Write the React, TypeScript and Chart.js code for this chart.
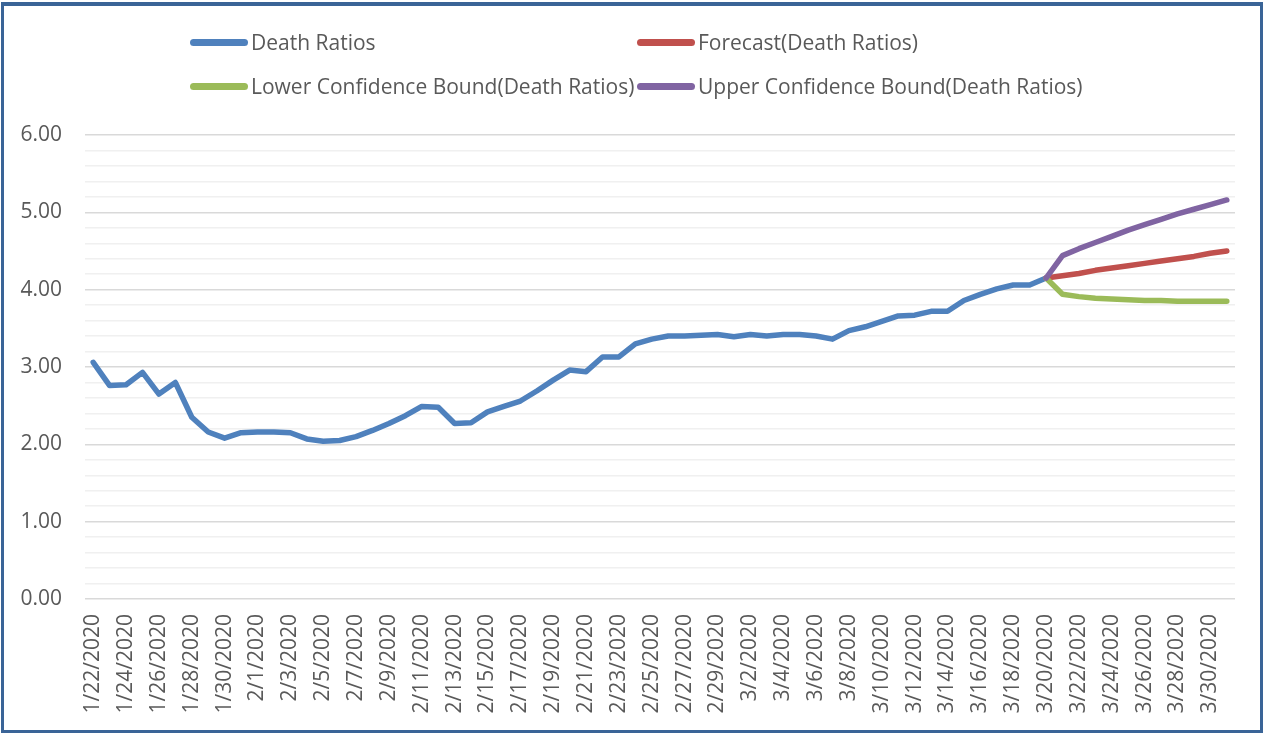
import React, { useEffect, useRef } from "react";
import { Chart, registerables } from "chart.js";

Chart.register(...registerables);

const dates: string[] = [
  "1/22/2020","1/23/2020","1/24/2020","1/25/2020","1/26/2020","1/27/2020","1/28/2020","1/29/2020","1/30/2020","1/31/2020",
  "2/1/2020","2/2/2020","2/3/2020","2/4/2020","2/5/2020","2/6/2020","2/7/2020","2/8/2020","2/9/2020","2/10/2020",
  "2/11/2020","2/12/2020","2/13/2020","2/14/2020","2/15/2020","2/16/2020","2/17/2020","2/18/2020","2/19/2020","2/20/2020",
  "2/21/2020","2/22/2020","2/23/2020","2/24/2020","2/25/2020","2/26/2020","2/27/2020","2/28/2020","2/29/2020","3/1/2020",
  "3/2/2020","3/3/2020","3/4/2020","3/5/2020","3/6/2020","3/7/2020","3/8/2020","3/9/2020","3/10/2020","3/11/2020",
  "3/12/2020","3/13/2020","3/14/2020","3/15/2020","3/16/2020","3/17/2020","3/18/2020","3/19/2020","3/20/2020","3/21/2020",
  "3/22/2020","3/23/2020","3/24/2020","3/25/2020","3/26/2020","3/27/2020","3/28/2020","3/29/2020","3/30/2020","3/31/2020",
];

const deathRatios: (number | null)[] = [
  3.06, 2.76, 2.77, 2.93, 2.65, 2.80, 2.35, 2.16, 2.08, 2.15,
  2.16, 2.16, 2.15, 2.07, 2.04, 2.05, 2.10, 2.18, 2.27, 2.37,
  2.49, 2.48, 2.27, 2.28, 2.42, 2.49, 2.56, 2.69, 2.83, 2.96,
  2.94, 3.13, 3.13, 3.30, 3.36, 3.40, 3.40, 3.41, 3.42, 3.39,
  3.42, 3.40, 3.42, 3.42, 3.40, 3.36, 3.47, 3.52, 3.59, 3.66,
  3.67, 3.72, 3.72, 3.86, 3.94, 4.01, 4.06, 4.06, 4.15, null,
  null, null, null, null, null, null, null, null, null, null,
];

const pad58: null[] = new Array(58).fill(null);

const forecastTail: number[] = [4.15, 4.18, 4.21, 4.25, 4.28, 4.31, 4.34, 4.37, 4.40, 4.43, 4.47, 4.50];
const lowerTail: number[] = [4.15, 3.94, 3.91, 3.89, 3.88, 3.87, 3.86, 3.86, 3.85, 3.85, 3.85, 3.85];
const upperTail: number[] = [4.15, 4.44, 4.53, 4.61, 4.69, 4.77, 4.84, 4.91, 4.98, 5.04, 5.10, 5.16];

const forecast = [...pad58, ...forecastTail];
const lowerBound = [...pad58, ...lowerTail];
const upperBound = [...pad58, ...upperTail];

const seriesNames = [
  "Death Ratios",
  "Forecast(Death Ratios)",
  "Lower Confidence Bound(Death Ratios)",
  "Upper Confidence Bound(Death Ratios)",
];
const colors = ["#4F81BD", "#C0504D", "#9BBB59", "#8064A2"];

const FONT = "'Open Sans', 'Noto Sans', sans-serif";

export default function App() {
  const canvasRef = useRef<HTMLCanvasElement | null>(null);

  useEffect(() => {
    const canvas = canvasRef.current;
    if (!canvas) return;
    const dsList = [deathRatios, forecast, lowerBound, upperBound];
    const orders = [3, 2, 1, 0];
    const chart = new Chart(canvas, {
      type: "line",
      data: {
        labels: dates,
        datasets: dsList.map((d, i) => ({
          label: seriesNames[i],
          data: d,
          borderColor: colors[i],
          backgroundColor: colors[i],
          borderWidth: 5.5,
          pointRadius: 0,
          pointHoverRadius: 0,
          tension: 0,
          borderCapStyle: "round" as const,
          borderJoinStyle: "round" as const,
          spanGaps: false,
          order: orders[i],
        })),
      },
      options: {
        animation: false,
        responsive: false,
        maintainAspectRatio: false,
        layout: { padding: { top: 135, left: 0, right: 29, bottom: 0 } },
        plugins: {
          legend: { display: false },
          tooltip: { enabled: false },
        },
        scales: {
          x: {
            type: "category",
            offset: true,
            grid: { display: false, drawTicks: false },
            border: { display: false },
            afterFit: (scale: any) => {
              scale.height = 136;
              scale.paddingLeft = 0;
              scale.paddingRight = 0;
            },
            ticks: {
              autoSkip: false,
              minRotation: 90,
              maxRotation: 90,
              padding: 15,
              color: "#595959",
              font: { family: FONT, size: 21 },
              callback: function (this: any, _v: any, idx: number) {
                return idx % 2 === 0 ? dates[idx] : "";
              },
            },
          },
          y: {
            min: 0,
            max: 6,
            grid: {
              drawTicks: false,
              color: (ctx: any) => {
                const v = ctx.tick ? ctx.tick.value : 0;
                return Math.abs(v - Math.round(v)) < 1e-6 ? "#D9D9D9" : "#F0F0F0";
              },
              lineWidth: 1.5,
            },
            border: { display: false },
            afterFit: (scale: any) => {
              scale.width = 85;
              scale.paddingTop = 0;
              scale.paddingBottom = 0;
            },
            ticks: {
              stepSize: 0.2,
              autoSkip: false,
              padding: 23,
              color: "#595959",
              font: { family: FONT, size: 21 },
              callback: (v: any) => {
                const n = Number(v);
                return Math.abs(n - Math.round(n)) < 1e-6 ? Math.round(n).toFixed(2) : "";
              },
            },
          },
        },
      },
    });
    return () => chart.destroy();
  }, []);

  const legendItem = (i: number, left: number, top: number) => (
    <div
      key={i}
      style={{
        position: "absolute",
        left,
        top: top - 15,
        height: 30,
        display: "flex",
        alignItems: "center",
        whiteSpace: "nowrap",
      }}
    >
      <span
        style={{
          display: "inline-block",
          width: 58,
          height: 7,
          borderRadius: 4,
          background: colors[i],
          marginRight: 3,
        }}
      />
      <span style={{ fontFamily: FONT, fontSize: 21, color: "#595959" }}>{seriesNames[i]}</span>
    </div>
  );

  return (
    <div
      style={{
        position: "fixed",
        left: 0,
        top: 0,
        width: 1264,
        height: 735,
        background: "#FFFFFF",
        overflow: "hidden",
      }}
    >
      <canvas ref={canvasRef} width={1264} height={735} style={{ position: "absolute", left: 0, top: 0 }} />
      {legendItem(0, 190, 42)}
      {legendItem(1, 637, 42)}
      {legendItem(2, 190, 86)}
      {legendItem(3, 637, 86)}
      <div
        style={{
          position: "absolute",
          left: 1,
          top: 2,
          width: 1262,
          height: 731,
          boxSizing: "border-box",
          borderStyle: "solid",
          borderColor: "#3A6497",
          borderWidth: "4px 3px 3px 3px",
          pointerEvents: "none",
        }}
      />
    </div>
  );
}
